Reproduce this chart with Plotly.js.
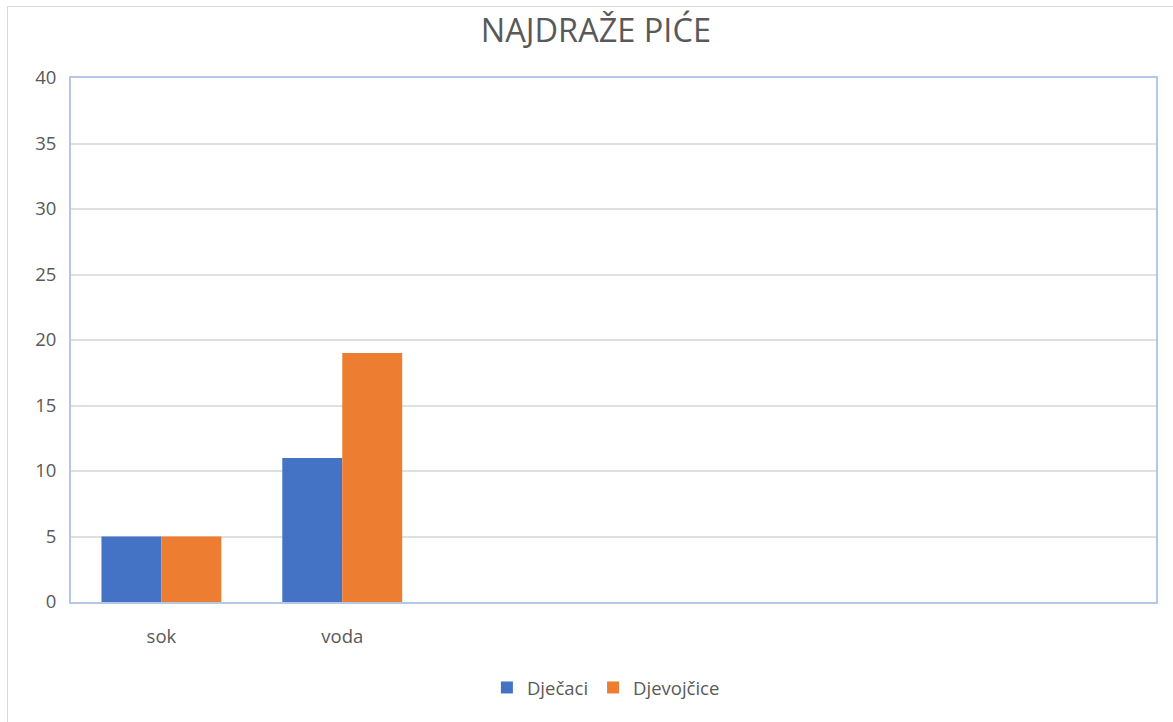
<!DOCTYPE html>
<html>
<head>
<meta charset="utf-8">
<script src="https://cdn.plot.ly/plotly-3.0.1.min.js"></script>
<style>
html,body{margin:0;padding:0;background:#fff;}
#wrap{position:relative;width:1173px;height:722px;}
#chart{width:1173px;height:722px;}
#frame{position:absolute;left:7px;top:6px;width:1180px;height:730px;border-top:1px solid #d9d9d9;border-left:1px solid #d9d9d9;pointer-events:none;}
</style>
</head>
<body>
<div id="wrap"><div id="chart"></div><div id="frame"></div></div>
<script>
const categories = ["sok", "voda"];
const seriesNames = ["Dječaci", "Djevojčice"];
const djecaci = [5, 11];
const djevojcice = [5, 19];
const yTicks = [0, 5, 10, 15, 20, 25, 30, 35, 40];
const colors = ["#4472c4", "#ed7d31"];
const slotCount = 6;

const font = "'Segoe UI', 'Open Sans', 'Noto Sans', sans-serif";

const traces = [djecaci, djevojcice].map((vals, i) => ({
  type: "bar",
  name: seriesNames[i],
  x: categories,
  y: vals,
  marker: {color: colors[i], line: {width: 0}},
  hoverinfo: "x+y+name"
}));

const layout = {
  width: 1173,
  height: 722,
  margin: {l: 71, r: 17, t: 78, b: 120},
  paper_bgcolor: "#ffffff",
  plot_bgcolor: "#ffffff",
  font: {family: font, color: "#595959", size: 18},
  title: {
    text: "NAJDRAŽE PIĆE",
    font: {family: font, size: 32.5, color: "#595959"},
    x: 0.508, xanchor: "center",
    y: 0.958, yanchor: "middle"
  },
  barmode: "group",
  bargap: 0.337,
  bargroupgap: 0,
  xaxis: {
    type: "category",
    range: [-0.5, slotCount - 0.5],
    showgrid: false,
    showline: true,
    linecolor: "#b4c7e7",
    linewidth: 2,
    mirror: true,
    ticks: "",
    tickfont: {size: 18.5, color: "#595959"},
    ticklabelstandoff: 17,
    zeroline: false,
    fixedrange: true
  },
  yaxis: {
    range: [0, 40],
    tickvals: yTicks,
    ticktext: yTicks.map(String),
    showgrid: true,
    gridcolor: "#e0e0e0",
    gridwidth: 2,
    showline: true,
    linecolor: "#b4c7e7",
    linewidth: 2,
    mirror: true,
    ticks: "",
    ticklabelstandoff: 9,
    tickfont: {size: 18.5, color: "#595959"},
    zeroline: false,
    fixedrange: true
  },
  legend: {
    orientation: "h",
    x: 0.493, xanchor: "center",
    y: -0.164, yanchor: "middle",
    font: {size: 18.5, color: "#595959"},
    itemwidth: 30
  },
  showlegend: true
};

Plotly.newPlot("chart", traces, layout, {displayModeBar: false, staticPlot: true});
</script>
</body>
</html>
